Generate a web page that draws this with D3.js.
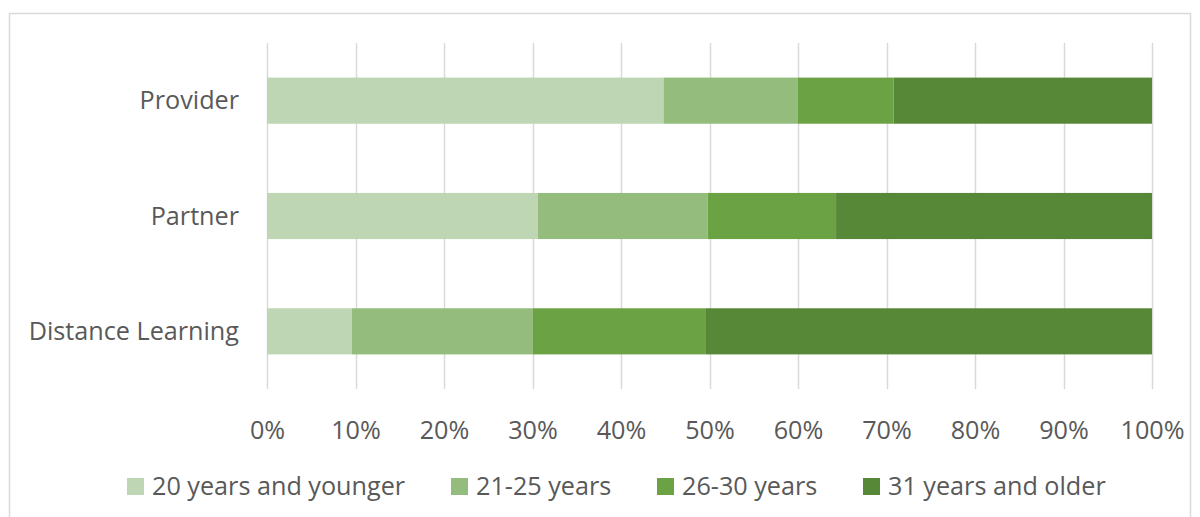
<!DOCTYPE html>
<html>
<head>
<meta charset="utf-8">
<script src="https://cdn.jsdelivr.net/npm/d3@7"></script>
<style>
  body { margin: 0; background: #fff; }
  text { font-family: "Segoe UI", "Open Sans", sans-serif; fill: #595959; }
</style>
</head>
<body>
<svg id="chart" width="1200" height="517"></svg>
<script>
var categories = ["Provider", "Partner", "Distance Learning"];
var seriesNames = ["20 years and younger", "21-25 years", "26-30 years", "31 years and older"];
var seriesColors = ["#bed6b3", "#94bc7d", "#6aa244", "#578838"];
// share of each age group, per category (percent)
var young = [44.8, 30.6, 9.6];
var age2125 = [15.2, 19.2, 20.4];
var age2630 = [10.8, 14.5, 19.6];
var older = [29.2, 35.7, 50.4];
var tickValues = [0, 10, 20, 30, 40, 50, 60, 70, 80, 90, 100];

var rows = categories.map(function(c, i) {
  return {
    cat: c,
    "20 years and younger": young[i],
    "21-25 years": age2125[i],
    "26-30 years": age2630[i],
    "31 years and older": older[i]
  };
});

var svg = d3.select("#chart");
var margin = { left: 267, right: 48, top: 43, bottom: 128 };
var width = 1200 - margin.left - margin.right;
var height = 517 - margin.top - margin.bottom;
var fontSize = "25.2px";

// outer chart border
svg.append("rect")
  .attr("x", 9.5).attr("y", 13.5)
  .attr("width", 1181).attr("height", 520)
  .attr("fill", "none")
  .attr("stroke", "#d9d9d9")
  .attr("stroke-width", 1.5);

var g = svg.append("g").attr("transform", "translate(" + margin.left + "," + margin.top + ")");

var x = d3.scaleLinear().domain([0, 100]).range([0, width]);
var y = d3.scaleBand().domain(categories).range([0, height]).paddingInner(0.6).paddingOuter(0.3);

// gridlines
g.selectAll(".grid")
  .data(tickValues)
  .enter().append("line")
  .attr("x1", function(d) { return Math.round(x(d)) + 0.5; })
  .attr("x2", function(d) { return Math.round(x(d)) + 0.5; })
  .attr("y1", 0).attr("y2", height)
  .attr("stroke", "#d9d9d9")
  .attr("stroke-width", 1.5);

var stack = d3.stack().keys(seriesNames);
var layers = stack(rows);

g.selectAll(".layer")
  .data(layers)
  .enter().append("g")
  .attr("fill", function(d, i) { return seriesColors[i]; })
  .selectAll("rect")
  .data(function(d) { return d; })
  .enter().append("rect")
  .attr("x", function(d) { return x(d[0]); })
  .attr("width", function(d) { return x(d[1]) - x(d[0]); })
  .attr("y", function(d) { return y(d.data.cat); })
  .attr("height", y.bandwidth());

// x axis
var xAxis = d3.axisBottom(x)
  .tickValues(tickValues)
  .tickFormat(function(d) { return d + "%"; })
  .tickSize(0)
  .tickPadding(0);

var xg = g.append("g")
  .attr("transform", "translate(0," + height + ")")
  .call(xAxis);
xg.select(".domain").remove();
xg.selectAll("text")
  .attr("dy", null)
  .attr("y", 50)
  .style("font-size", fontSize)
  .attr("fill", "#595959");

// y axis
var yAxis = d3.axisLeft(y).tickSize(0).tickPadding(28);
var yg = g.append("g").call(yAxis);
yg.select(".domain").remove();
yg.selectAll("text")
  .attr("dy", "0.35em")
  .style("font-size", fontSize)
  .attr("fill", "#595959");

// legend
var legendX = [127, 451, 657, 863];
var legend = svg.append("g").attr("transform", "translate(0,478)");
var item = legend.selectAll(".item")
  .data(seriesNames)
  .enter().append("g")
  .attr("transform", function(d, i) { return "translate(" + legendX[i] + ",0)"; });
item.append("rect")
  .attr("width", 17).attr("height", 17)
  .attr("fill", function(d, i) { return seriesColors[i]; });
item.append("text")
  .attr("x", 25).attr("y", 16.5)
  .style("font-size", fontSize)
  .text(function(d) { return d; });
</script>
</body>
</html>
